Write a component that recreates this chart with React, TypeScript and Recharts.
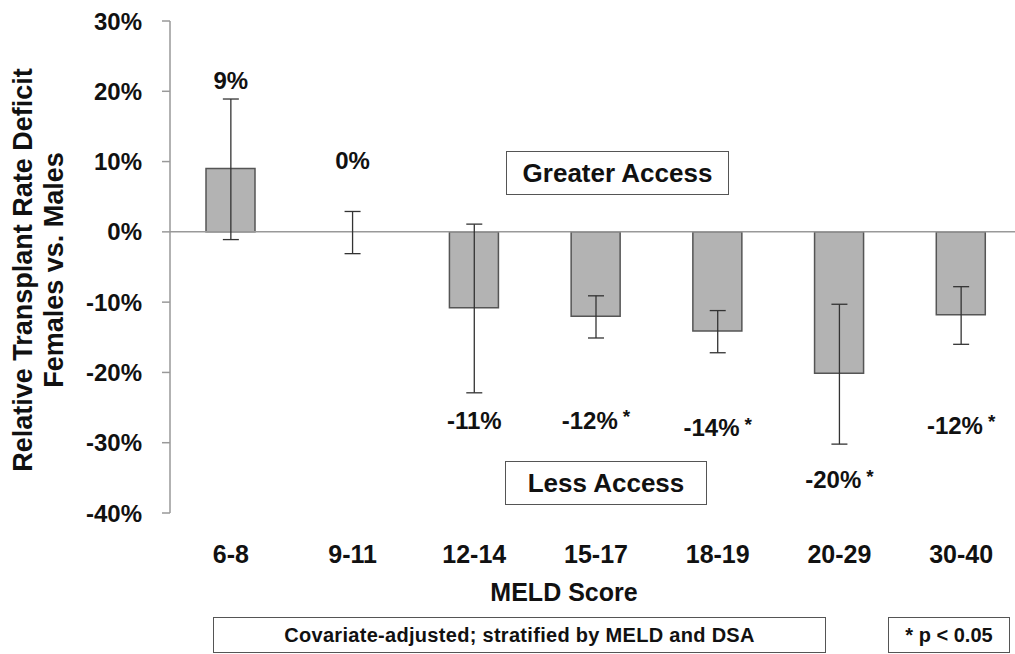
import React from "react";
import {
  Bar,
  ComposedChart,
  ErrorBar,
  LabelList,
  Line,
  ReferenceLine,
  XAxis,
  YAxis,
} from "recharts";

const categories = ["6-8", "9-11", "12-14", "15-17", "18-19", "20-29", "30-40"];
const deficit = [9, 0, -10.8, -12, -14.1, -20.1, -11.8];
const ciLow = [-1.1, -3.1, -22.9, -15.1, -17.2, -30.2, -16];
const ciHigh = [18.9, 2.9, 1.1, -9.1, -11.2, -10.3, -7.8];
// "*" marks p < 0.05
const labelText = ["9%", "0%", "-11%", "-12%*", "-14%*", "-20%*", "-12%*"];
const labelAt = [21.5, 10.2, -26.8, -26.8, -27.9, -35.3, -27.5];
const yTicks = [-40, -30, -20, -10, 0, 10, 20, 30];

const rows = categories.map((cat, i) => ({
  cat,
  deficit: deficit[i],
  err: [deficit[i] - ciLow[i], ciHigh[i] - deficit[i]],
  labelAt: labelAt[i],
  labelText: labelText[i],
}));

const font = '"Liberation Sans", Arial, sans-serif';

function CatTick({ x, y, payload }: any) {
  return (
    <text
      x={x}
      y={y + 50}
      textAnchor="middle"
      fontSize={25}
      fontWeight="bold"
      fill="#111"
      fontFamily={font}
    >
      {payload.value}
    </text>
  );
}

function ValueLabel(props: any) {
  const { x, y, value } = props;
  const s = String(value);
  const star = s.endsWith("*");
  const main = star ? s.slice(0, -1) : s;
  return (
    <text
      x={x}
      y={y}
      textAnchor="middle"
      dominantBaseline="central"
      fontSize={24}
      fontWeight="bold"
      fill="#111"
      fontFamily={font}
    >
      {main}
      {star && (
        <tspan fontSize={19} dx={5} dy={-4}>
          *
        </tspan>
      )}
    </text>
  );
}

const boxStyle: React.CSSProperties = {
  position: "absolute",
  boxSizing: "border-box",
  border: "1.5px solid #555",
  background: "#fff",
  display: "flex",
  alignItems: "center",
  justifyContent: "center",
  fontWeight: "bold",
  color: "#111",
  whiteSpace: "nowrap",
};

export default function App() {
  return (
    <div
      style={{
        position: "absolute",
        left: 0,
        top: 0,
        width: 1015,
        height: 654,
        overflow: "hidden",
        background: "#fff",
        fontFamily: font,
      }}
    >
      <ComposedChart
        width={1030}
        height={654}
        data={rows}
        margin={{ top: 21, right: 8, bottom: 81, left: 0 }}
      >
        <XAxis
          dataKey="cat"
          axisLine={false}
          tickLine={false}
          tickSize={0}
          tickMargin={0}
          height={60}
          interval={0}
          tick={<CatTick />}
        />
        <YAxis
          domain={[-40, 30]}
          ticks={yTicks}
          allowDataOverflow
          tickFormatter={(v: number) => `${v}%`}
          width={170}
          axisLine={{ stroke: "#999", strokeWidth: 1.5 }}
          tickLine={{ stroke: "#999", strokeWidth: 1.5 }}
          tickSize={8}
          tickMargin={20}
          tick={{ fontSize: 24, fontWeight: "bold", fill: "#111", fontFamily: font }}
        />
        <ReferenceLine y={0} stroke="#999" strokeWidth={1.5} />
        <Bar
          dataKey="deficit"
          barSize={49}
          fill="#b3b3b3"
          stroke="#555"
          strokeWidth={1.5}
          isAnimationActive={false}
        />
        {/* invisible line carries the confidence intervals so the 0% bar still gets one */}
        <Line
          dataKey="deficit"
          stroke="none"
          dot={false}
          activeDot={false}
          legendType="none"
          isAnimationActive={false}
        >
          <ErrorBar dataKey="err" width={8} stroke="#333" strokeWidth={1.3} direction="y" />
        </Line>
        <Line
          dataKey="labelAt"
          stroke="none"
          dot={false}
          activeDot={false}
          legendType="none"
          isAnimationActive={false}
        >
          <LabelList dataKey="labelText" content={<ValueLabel />} />
        </Line>
      </ComposedChart>

      <div
        style={{
          position: "absolute",
          left: 40 - 230,
          top: 270 - 32,
          width: 460,
          height: 64,
          transform: "rotate(-90deg)",
          transformOrigin: "center",
          textAlign: "center",
          fontSize: 27,
          lineHeight: "31px",
          fontWeight: "bold",
          color: "#111",
        }}
      >
        Relative Transplant Rate Deficit
        <br />
        Females vs. Males
      </div>

      <div style={{ ...boxStyle, left: 506, top: 151, width: 223, height: 44, fontSize: 26 }}>
        Greater Access
      </div>
      <div style={{ ...boxStyle, left: 505, top: 461, width: 202, height: 44, fontSize: 26 }}>
        Less Access
      </div>

      <div
        style={{
          position: "absolute",
          left: 464,
          top: 576,
          width: 200,
          textAlign: "center",
          fontSize: 25,
          lineHeight: "32px",
          fontWeight: "bold",
          color: "#111",
        }}
      >
        MELD Score
      </div>

      <div
        style={{ ...boxStyle, left: 213, top: 617, width: 613, height: 36, fontSize: 20, letterSpacing: 0.3 }}
      >
        Covariate-adjusted; stratified by MELD and DSA
      </div>
      <div style={{ ...boxStyle, left: 888, top: 617, width: 122, height: 36, fontSize: 20 }}>
        * p &lt; 0.05
      </div>
    </div>
  );
}
